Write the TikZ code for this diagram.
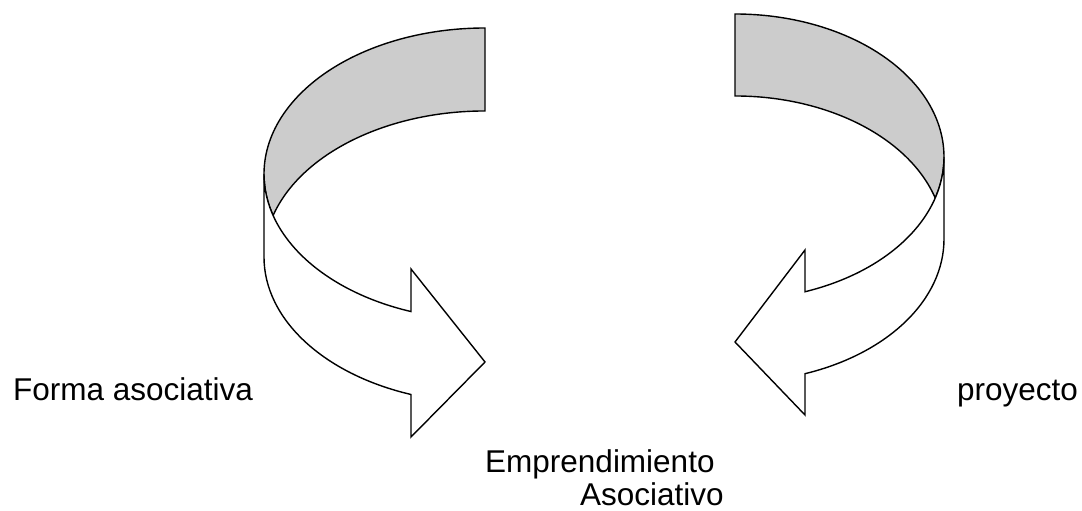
\documentclass[tikz,border=0pt]{standalone}
\usepackage{fontspec}
\setmainfont{Liberation Sans}
\definecolor{bandgray}{RGB}{204,204,204}
\begin{document}
\begin{tikzpicture}[x=1pt,y=1pt,
  ribbon/.style={draw=black,line width=1.4pt,line join=miter},
  lbl/.style={inner sep=0pt,anchor=base west,font=\fontsize{31.5}{36}\selectfont}]
\useasboundingbox (0,0) rectangle (1082,511);
% left curved arrow: ellipse centre (485,337), a=221, b=146, ribbon height 83
\fill[bandgray] (485,483) arc[start angle=90,end angle=196.51,x radius=221,y radius=146]
  arc[start angle=163.49,end angle=90,x radius=221,y radius=146] -- cycle;
\draw[ribbon] (485,483) arc[start angle=90,end angle=196.51,x radius=221,y radius=146]
  arc[start angle=163.49,end angle=90,x radius=221,y radius=146] -- cycle;
\draw[ribbon,fill=white] (264,337) arc[start angle=180,end angle=250.44,x radius=221,y radius=146]
  -- (411,242) -- (485,149) -- (411,74) -- (411,116.5)
  arc[start angle=250.44,end angle=180,x radius=221,y radius=146] -- cycle;
% right curved arrow: ellipse centre (735,354), a=209, b=143, ribbon height 82
\fill[bandgray] (735,497) arc[start angle=90,end angle=-16.66,x radius=209,y radius=143]
  arc[start angle=16.66,end angle=90,x radius=209,y radius=143] -- cycle;
\draw[ribbon] (735,497) arc[start angle=90,end angle=-16.66,x radius=209,y radius=143]
  arc[start angle=16.66,end angle=90,x radius=209,y radius=143] -- cycle;
\draw[ribbon,fill=white] (944,354) arc[start angle=0,end angle=-70.43,x radius=209,y radius=143]
  -- (805,261) -- (735,169) -- (805,96) -- (805,137.3)
  arc[start angle=-70.43,end angle=0,x radius=209,y radius=143] -- cycle;
% labels
\node[lbl] (forma) at (13,110) {Forma asociativa};
\node[lbl] (proy) at (957,110) {proyecto};
\node[lbl] (empr) at (485,38) {Emprendimiento};
\node[lbl] (asoc) at (580,5) {Asociativo};
\end{tikzpicture}
\end{document}
